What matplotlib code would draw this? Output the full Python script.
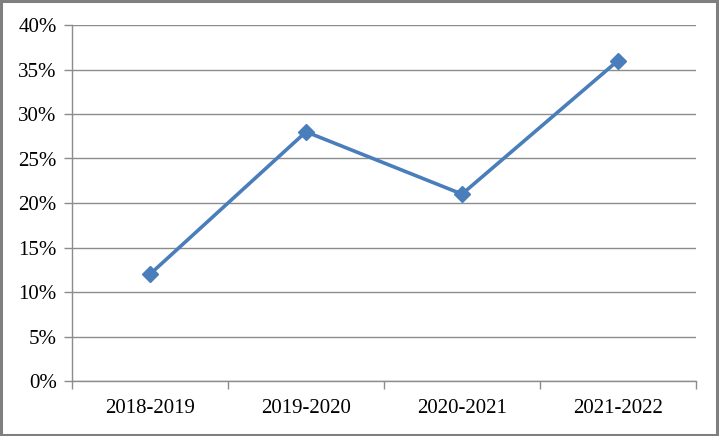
import matplotlib
matplotlib.use("Agg")
from matplotlib import pyplot as plt
from matplotlib.patches import Rectangle
from matplotlib.ticker import FuncFormatter

# Dados do gráfico
anos = ['2018-2019', '2019-2020', '2020-2021', '2021-2022']
valores = [0.12, 0.28, 0.21, 0.36]
ticks_y = [0, 0.05, 0.10, 0.15, 0.20, 0.25, 0.30, 0.35, 0.40]

plt.rcParams['font.family'] = ['Liberation Serif', 'DejaVu Serif']

fig = plt.figure(figsize=(7.19, 4.36), dpi=100)
ax = fig.add_axes([72 / 719, 55 / 436, 624 / 719, 356 / 436])

x = list(range(len(anos)))
ax.plot(x, valores, color='#4A7EBB', linewidth=2.6, marker='D', markersize=8.5,
        zorder=3)

ax.set_xlim(-0.5, len(anos) - 0.5)
ax.set_ylim(0, 0.40)
ax.set_yticks(ticks_y)
ax.yaxis.set_major_formatter(FuncFormatter(lambda v, p: f"{round(v * 100)}%"))
ax.grid(axis='y', color='#8c8c8c', linewidth=1)
ax.set_axisbelow(True)

# Categorias nos centros, marcas de escala nas divisões
ax.set_xticks(x)
ax.set_xticklabels(anos)
ax.set_xticks([i - 0.5 for i in range(len(anos) + 1)], minor=True)
ax.tick_params(axis='x', which='major', length=0, pad=13, labelsize=15)
ax.tick_params(axis='x', which='minor', length=6, color='#8c8c8c', width=1)
ax.tick_params(axis='y', length=6, color='#8c8c8c', width=1, pad=5, labelsize=15)

for lado in ['top', 'right']:
    ax.spines[lado].set_visible(False)
for lado in ['left', 'bottom']:
    ax.spines[lado].set_color('#8c8c8c')
    ax.spines[lado].set_linewidth(1)

# Moldura cinza em volta da figura
fig.patches.append(Rectangle((0.002, 0.003), 0.995, 0.994, transform=fig.transFigure,
                             fill=False, edgecolor='#7f7f7f', linewidth=2.2))

plt.savefig('out.png', dpi=100)
